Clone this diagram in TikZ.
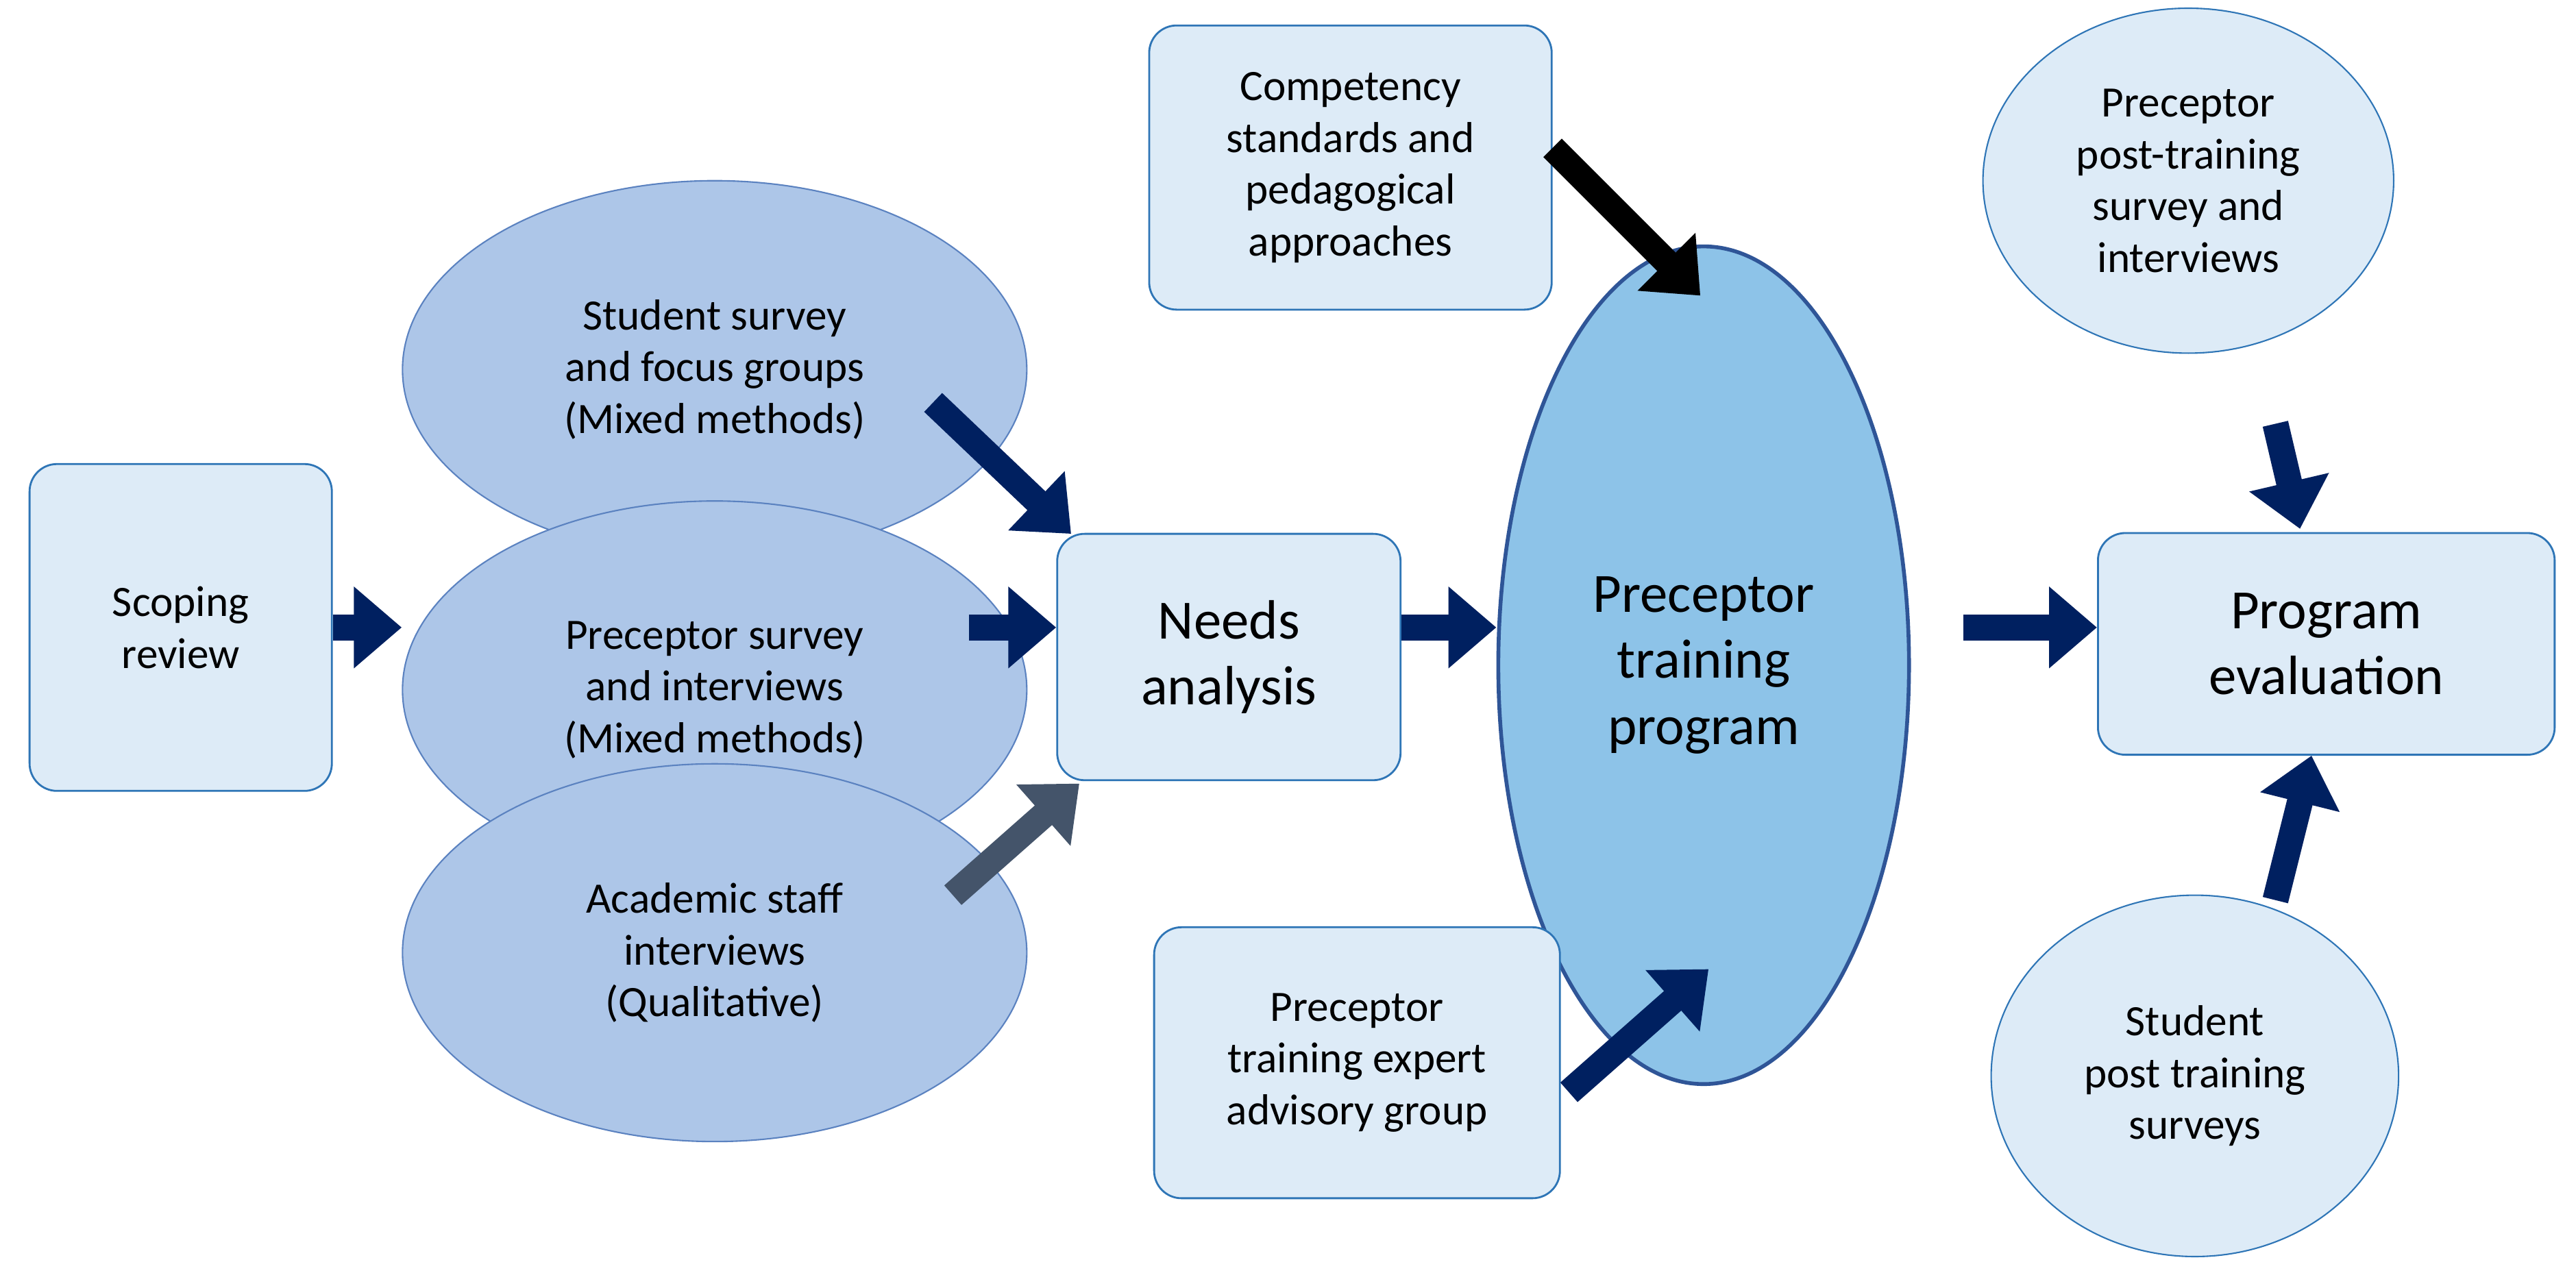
\documentclass[tikz,border=0pt]{standalone}
\usepackage{fontspec}
\setmainfont{Carlito}
\usepackage{tikz}
\usetikzlibrary{arrows.meta,shapes.geometric}
\definecolor{navy}{HTML}{002060}
\definecolor{slate}{HTML}{44546A}
\definecolor{boxfill}{HTML}{DDEBF7}
\definecolor{boxline}{HTML}{2E75B6}
\definecolor{ovfill}{HTML}{ADC6E8}
\definecolor{ovline}{HTML}{5B82C0}
\definecolor{bigfill}{HTML}{8DC3E8}
\definecolor{bigline}{HTML}{2F5597}

\begin{document}
\begin{tikzpicture}[x=0.02397cm,y=-0.02397cm,
  box/.style={draw=boxline, fill=boxfill, rounded corners=4mm, line width=0.8pt, align=center, font=\fontsize{18}{21.5}\selectfont, inner sep=0pt},
  oval/.style={draw=ovline, fill=ovfill, ellipse, line width=0.6pt, align=center, font=\fontsize{18}{21.5}\selectfont, inner sep=0pt},
  lightoval/.style={oval, fill=boxfill, draw=boxline},
  blk/.style={navy, line width=0.38cm, -{Triangle[length=0.7cm,width=1.15cm]}}]
  \useasboundingbox (0,0) rectangle (1568,775);
  \node[box, minimum width=184*0.02397cm, minimum height=199*0.02397cm] (scope) at (110,382) {Scoping\\review};
  \node[oval, minimum width=380*0.02397cm, minimum height=230*0.02397cm] (ssurv) at (435,225) {Student survey\\and focus groups\\(Mixed methods)};
  \node[oval, minimum width=380*0.02397cm, minimum height=230*0.02397cm] (psurv) at (435,420) {Preceptor survey\\and interviews\\(Mixed methods)};
  \node[oval, minimum width=380*0.02397cm, minimum height=230*0.02397cm] (acad) at (435,580) {Academic staff\\interviews\\(Qualitative)};
  \node[box, minimum width=209*0.02397cm, minimum height=150*0.02397cm, font=\fontsize{23}{27.5}\selectfont] (needs) at (748,400) {Needs\\analysis};
  \node[box, minimum width=245*0.02397cm, minimum height=173*0.02397cm] (comp) at (822,102) {Competency\\standards and\\pedagogical\\approaches};
  \node[oval, fill=bigfill, draw=bigline, line width=1.6pt, minimum width=250*0.02397cm, minimum height=510*0.02397cm, font=\fontsize{23}{27.5}\selectfont] (ptp) at (1037,405) {Preceptor\\training\\program};
  \node[box, minimum width=247*0.02397cm, minimum height=165*0.02397cm] (expert) at (826,647) {Preceptor\\training expert\\advisory group};
  \node[lightoval, minimum width=250*0.02397cm, minimum height=210*0.02397cm] (ppost) at (1332,110) {Preceptor\\post-training\\survey and\\interviews};
  \node[box, minimum width=278*0.02397cm, minimum height=135*0.02397cm, font=\fontsize{23}{27.5}\selectfont] (eval) at (1416,392) {Program\\evaluation};
  \node[lightoval, minimum width=248*0.02397cm, minimum height=220*0.02397cm] (spost) at (1336,655) {Student\\post training\\surveys};

  \draw[blk] (scope.east |- 0,382) -- (psurv.west |- 0,382);
  \draw[blk] (590,382) -- (needs.west |- 0,382);
  \draw[blk] (568,245) -- (652,325);
  \draw[blk, slate] (580,545) -- (657,477);
  \draw[blk] (needs.east |- 0,382) -- (ptp.west |- 0,382);
  \draw[blk, black] (945,90) -- (1035,180);
  \draw[blk] (955,665) -- (1040,590);
  \draw[blk] (1195,382) -- (eval.west |- 0,382);
  \draw[blk] (1385,258) -- (1400,322);
  \draw[blk] (1385,548) -- (1407,460);
\end{tikzpicture}
\end{document}
